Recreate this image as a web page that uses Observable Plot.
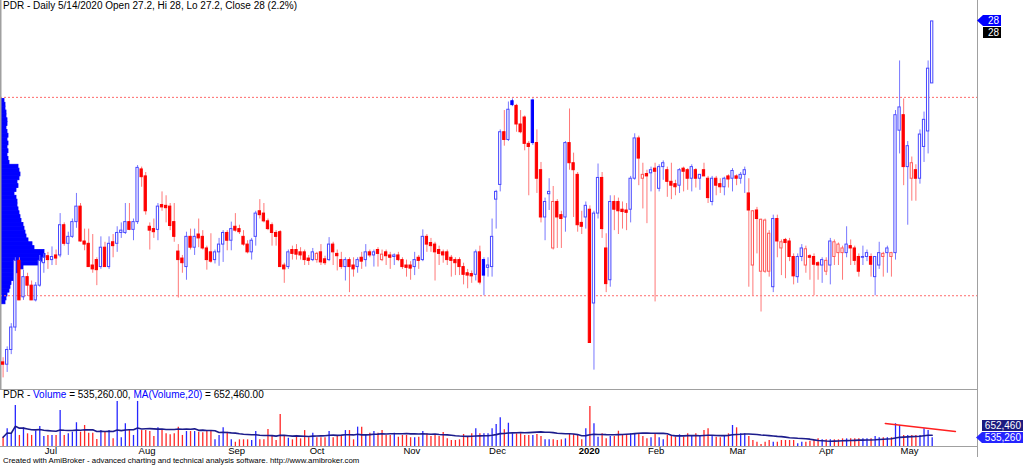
<!DOCTYPE html>
<html><head><meta charset="utf-8">
<script src="https://cdn.jsdelivr.net/npm/d3@7"></script>
<script src="https://cdn.jsdelivr.net/npm/@observablehq/plot@0.6"></script>
<style>
html,body{margin:0;padding:0;background:#fff;}
#wrap{position:relative;width:1024px;height:467px;overflow:hidden;font-family:"Liberation Sans",Arial,sans-serif;background:#fff;}
.abs{position:absolute;}
.lbl{position:absolute;color:#fff;font-size:10px;line-height:11px;height:11px;text-align:right;padding-right:2px;box-sizing:border-box;}
</style></head><body>
<div id="wrap">
  <div id="profile" class="abs" style="left:0;top:0"></div>
  <div id="price" class="abs" style="left:0;top:0"></div>
  <div id="vol" class="abs" style="left:0;top:389px"></div>
  <div id="title" class="abs" style="left:3px;top:0;font-size:10px;line-height:12px;white-space:nowrap;"></div>
  <div id="vtitle" class="abs" style="left:3px;top:389px;font-size:10px;line-height:12px;white-space:nowrap;"></div>
  <div id="footer" class="abs" style="left:3px;top:456px;font-size:7.8px;line-height:10px;white-space:nowrap;"></div>
  <div class="abs" style="left:977px;top:0;width:1px;height:457px;background:#a0a0a0;"></div>
  <div id="pl1" class="lbl" style="left:977px;top:15px;width:24px;background:#0000ff;clip-path:polygon(0 50%,6px 0,100% 0,100% 100%,6px 100%);"></div>
  <div id="pl2" class="lbl" style="left:983px;top:27px;width:18px;background:#000;"></div>
  <div id="vl1" class="lbl" style="left:982px;top:420px;width:41px;background:#1c1c80;"></div>
  <div id="vl2" class="lbl" style="left:976px;top:432px;width:47px;background:#2424ff;clip-path:polygon(0 50%,6px 0,100% 0,100% 100%,6px 100%);"></div>
</div>
<script>
// ---- data (daily bars, PDR, ~Jun 17 2019 .. May 14 2020) ----
const open = [23.60,23.57,23.76,24.05,24.91,24.44,24.70,24.59,24.40,24.59,24.88,24.97,24.92,24.98,24.98,25.37,25.13,25.22,25.41,25.61,
25.16,25.13,24.85,24.92,24.83,25.08,24.83,25.15,25.13,25.27,25.27,25.41,25.31,25.41,26.09,26.00,25.35,25.32,25.31,25.63,
25.62,25.61,25.41,25.03,24.94,24.83,25.22,25.08,25.25,25.22,25.07,25.02,24.92,25.02,25.12,25.27,25.17,25.35,25.32,25.22,
25.12,25.02,25.22,25.55,25.52,25.42,25.37,25.27,25.28,24.85,24.83,25.05,25.05,25.02,25.02,24.94,24.92,24.92,25.02,24.93,
24.92,25.12,25.00,24.92,24.83,24.92,24.85,24.83,24.95,24.92,25.02,24.98,25.05,24.92,25.02,24.98,24.96,24.98,24.92,24.85,
24.85,24.83,24.95,24.92,25.22,25.14,25.12,25.05,25.02,25.02,24.95,24.92,24.92,24.83,24.75,24.74,24.73,25.02,24.92,24.82,
24.83,25.70,25.89,26.57,26.47,26.97,26.91,26.67,26.76,26.42,26.98,26.43,26.08,25.47,25.77,25.07,25.67,25.50,25.47,26.43,
26.17,26.02,25.40,25.47,25.57,24.36,25.52,25.98,25.07,24.66,25.67,25.67,25.57,25.56,25.57,25.97,26.49,25.97,26.03,26.04,
26.10,25.84,26.12,26.08,25.93,25.90,25.88,26.10,26.08,25.97,26.08,25.97,26.08,25.97,25.67,25.97,25.90,25.86,26.00,25.97,
26.00,25.97,26.02,25.78,24.85,25.56,24.77,24.77,24.77,24.57,25.45,25.07,25.18,25.16,24.96,24.70,24.96,24.85,24.97,24.96,
24.88,24.85,24.77,24.85,24.96,25.01,25.01,25.01,25.10,25.07,24.96,24.95,24.96,24.96,24.70,24.85,24.96,25.01,24.96,25.01,
26.59,26.79,26.12,25.97,26.08,25.97,26.38,26.58,27.20];
const high = [23.66,23.80,24.10,24.95,24.95,24.79,24.75,24.65,24.63,24.98,25.00,25.02,25.09,25.05,25.52,25.40,25.28,25.45,25.78,25.65,
25.32,25.32,25.25,24.95,25.22,25.15,25.22,25.25,25.35,25.40,25.65,25.65,25.45,26.14,26.12,26.05,25.40,25.45,25.65,25.80,
25.75,25.65,25.65,25.12,24.98,25.28,25.32,25.32,25.45,25.30,25.10,25.26,25.05,25.20,25.30,25.30,25.41,25.52,25.37,25.30,
25.17,25.20,25.55,25.70,25.65,25.45,25.40,25.30,25.30,24.88,25.05,25.10,25.12,25.08,25.05,24.98,25.07,25.02,25.12,24.97,
25.21,25.15,25.05,25.02,24.95,24.95,24.95,24.95,25.02,25.12,25.05,25.05,25.08,25.05,25.05,25.02,25.00,25.02,24.95,24.92,
24.90,25.02,24.98,25.31,25.25,25.20,25.15,25.10,25.05,25.05,24.98,24.95,24.95,24.88,24.80,24.78,25.05,25.10,24.95,24.95,
25.45,25.82,26.60,26.85,26.96,27.00,26.93,26.85,26.78,26.45,27.00,26.60,26.18,25.72,25.97,25.87,25.70,25.55,26.45,26.87,
26.30,26.05,25.55,25.67,25.62,25.55,26.16,26.05,25.26,25.75,25.75,25.72,25.67,25.65,26.00,26.55,26.52,26.17,26.08,26.12,
26.17,26.15,26.20,26.12,26.17,25.95,26.10,26.12,26.10,26.15,26.10,26.02,26.17,26.00,26.00,26.00,25.97,25.99,26.02,26.10,
26.02,26.05,26.12,25.97,25.56,25.60,25.45,25.45,25.30,25.50,25.50,25.18,25.20,25.20,25.00,25.00,25.12,25.10,24.99,25.00,
24.90,24.95,24.95,25.20,25.18,25.14,25.10,25.35,25.18,25.10,25.00,25.10,25.05,25.00,24.96,25.15,25.02,25.10,25.02,26.85,
27.49,27.00,26.45,26.25,26.15,26.60,26.83,27.49,28.00];
const low = [23.40,23.47,23.70,24.00,24.40,24.40,24.45,24.40,24.38,24.57,24.75,24.80,24.85,24.85,24.95,25.10,24.98,25.20,25.33,25.15,
25.04,24.83,24.75,24.59,24.80,24.83,24.80,24.95,25.02,25.20,25.25,25.30,25.17,25.38,25.86,25.50,25.05,25.20,25.17,25.55,
25.40,25.30,25.15,24.43,24.75,24.66,25.05,24.98,25.08,25.05,24.79,24.88,24.87,24.84,24.89,25.04,25.04,25.28,25.25,25.10,
25.00,24.92,25.10,25.45,25.40,25.30,25.10,25.10,24.83,24.62,24.80,24.92,24.92,24.92,24.85,24.85,24.90,24.88,24.85,24.85,
24.90,24.85,24.78,24.80,24.65,24.50,24.70,24.75,24.80,24.83,24.95,24.83,24.83,24.90,24.85,24.80,24.85,24.90,24.80,24.70,
24.66,24.72,24.80,24.90,25.02,25.02,24.65,24.85,24.88,24.85,24.70,24.72,24.72,24.60,24.55,24.62,24.65,24.60,24.46,24.70,
24.70,25.32,25.80,26.39,26.45,26.90,26.57,26.55,26.33,25.75,26.40,25.78,25.40,25.17,25.56,25.05,25.07,25.07,25.28,26.08,
25.47,25.28,25.25,25.32,23.85,23.50,25.45,25.20,24.50,24.57,25.30,25.25,25.32,25.30,25.40,25.95,25.88,25.58,25.39,25.80,
24.38,25.80,25.95,25.73,25.70,25.75,25.78,25.80,25.82,25.80,25.85,25.82,26.00,25.65,25.62,25.75,25.78,25.75,25.85,25.80,
25.88,25.90,25.78,24.57,24.46,25.00,24.25,24.75,24.70,24.50,24.95,24.72,24.68,24.90,24.60,24.62,24.90,24.75,24.66,24.46,
24.66,24.62,24.72,24.60,24.85,24.85,24.66,24.95,24.85,24.85,24.70,24.85,24.90,24.70,24.46,24.80,24.70,24.75,24.70,24.92,
26.29,25.88,25.37,25.68,25.68,25.90,26.18,26.29,27.20];
const close = [23.57,23.76,24.05,24.91,24.40,24.70,24.59,24.40,24.59,24.91,24.95,24.92,24.96,24.94,25.37,25.13,25.22,25.41,25.61,25.16,
25.12,24.83,24.80,24.79,25.08,24.83,25.13,25.10,25.27,25.30,25.41,25.31,25.41,26.11,25.99,25.55,25.30,25.28,25.61,25.60,
25.59,25.36,25.22,24.92,24.88,25.22,25.08,25.22,25.20,25.07,24.92,24.90,25.02,25.12,25.27,25.17,25.32,25.30,25.28,25.12,
25.02,25.17,25.52,25.50,25.42,25.32,25.27,25.22,24.83,24.80,25.02,25.00,24.99,24.98,24.92,24.91,25.02,25.00,24.89,24.88,
25.12,25.02,24.97,24.83,24.92,24.83,24.80,24.92,24.90,25.02,24.98,25.02,25.00,24.99,24.97,24.95,24.98,24.92,24.83,24.82,
24.81,24.92,24.91,25.22,25.12,25.10,25.02,25.00,24.98,24.92,24.91,24.88,24.83,24.73,24.72,24.71,25.02,24.63,24.72,24.85,
25.22,25.80,26.57,26.47,26.86,26.92,26.67,26.57,26.42,26.38,26.43,25.97,25.47,25.67,25.80,25.67,25.47,25.45,26.43,26.17,
26.08,25.37,25.35,25.62,23.85,25.52,25.98,25.32,24.61,25.67,25.57,25.55,25.54,25.53,25.97,26.49,26.23,26.02,26.00,26.08,
26.06,26.12,26.17,25.93,25.88,25.86,26.08,26.06,25.97,26.12,25.97,26.02,26.00,25.72,25.97,25.88,25.86,25.97,25.96,26.07,
25.97,26.02,26.08,25.56,25.55,25.45,25.44,25.43,25.26,25.45,25.16,25.15,25.14,24.96,24.71,24.96,25.07,25.06,24.95,24.86,
24.85,24.92,24.91,25.16,25.15,25.12,25.07,25.12,25.07,24.91,24.77,24.96,25.01,24.86,24.96,25.01,25.00,25.07,25.01,26.79,
26.89,26.12,26.39,26.17,25.97,26.54,26.73,27.39,28.00];
// volume, thousands of shares
const volume = [570,1090,780,2520,680,1150,780,680,940,1230,620,680,680,680,2210,680,780,880,1460,880,
1290,820,820,430,980,880,980,470,2770,540,1400,1030,680,2770,980,980,920,620,1150,980,
780,720,780,1190,680,920,920,920,880,840,940,940,410,680,1150,880,410,260,410,410,
410,370,920,410,410,1050,630,370,1970,680,510,410,680,470,980,540,820,540,540,540,
920,540,680,680,980,980,410,1190,1190,680,820,920,820,980,680,680,820,570,680,680,
540,540,570,920,780,620,680,620,860,470,370,370,410,740,570,780,1090,780,780,780,
1090,1350,1770,1030,1430,780,780,780,680,680,680,740,620,410,410,410,370,410,470,780,
740,680,410,1090,2460,1400,570,780,470,620,620,940,720,740,780,780,780,620,470,540,
780,540,410,680,680,570,720,570,780,680,780,680,980,1090,680,570,540,620,780,1290,
1150,780,780,620,370,260,120,260,370,260,260,370,370,370,370,170,260,260,330,410,
470,410,410,410,410,410,470,470,470,470,470,470,470,470,620,540,540,540,540,1400,
1290,680,680,680,680,680,1090,980,535.26];
const maLast = 652460;               // MA(Volume,20) on the last bar
const priceLevels = [27.02, 24.46];  // dotted red lines
// volume-at-price profile (relative volume), bins of 0.05 from 27.00 down to 24.35
const profileTop = 27.00, profileStep = 0.05;
const profileVol = [3,4,4,5,5,6,6,5,6,7,6,7,6,7,6,7,8,17,18,19,18,16,17,15,13,15,16,16,17,18,19,20,22,23,24,25,27,31,33,43,44,41,39,22,17,14,13,10,9,8,6,5,4];
const monthIdx = [10,33,55,75,98,119,141,158,178,200,220];
const monthLabels = ["Jul","Aug","Sep","Oct","Nov","Dec","2020","Feb","Mar","Apr","May"];
const volTrend = [{i:216.5, v:1415},{i:233.7, v:925}]; // user-drawn trend line on volume
const titleInfo = {ticker:"PDR", date:"5/14/2020"};

// ---- build ----
const BLUE = "#0000ff", RED = "#ff0000";
const LIGHT = {[BLUE]:"#7878ff", [RED]:"#ff7878"};
const OUTLINE = {[BLUE]:"#4848ff", [RED]:"#ff5858"};
const bars = close.map((c,i)=>{
  const ref = i ? close[i-1] : open[i];
  const col = c >= ref ? BLUE : RED;
  const hollow = c >= open[i];
  return {i, o:open[i], h:high[i], l:low[i], c, v:volume[i], col, wick:LIGHT[col],
          edge: hollow ? OUTLINE[col] : col, fill: hollow ? "#ffffff" : col};
});
const X_DOMAIN = [-0.638, 239.12];
const Y_DOMAIN = [23.25, 28.27];
const VMAX = 3505;
const font = {background:"transparent", overflow:"visible", fontFamily:"'Liberation Sans', Arial, sans-serif"};

const profBins = profileVol.map((w,k)=>({p: +(profileTop - (k+1)*profileStep).toFixed(2), w}));
document.getElementById("profile").append(Plot.plot({
  width:60, height:389, marginLeft:1, marginRight:0, marginTop:0, marginBottom:0, style:font,
  x:{domain:[0,59], axis:null}, y:{domain:Y_DOMAIN, axis:null},
  marks:[Plot.rectX(profBins, {x1:0, x2:"w", y1:"p", y2:d=>d.p+profileStep, fill:BLUE, stroke:BLUE, strokeWidth:0.8})]
}));

document.getElementById("price").append(Plot.plot({
  width:1024, height:389, marginLeft:0, marginRight:47, marginTop:0, marginBottom:0, style:font,
  x:{domain:X_DOMAIN, axis:null}, y:{domain:Y_DOMAIN, axis:null},
  marks:[
    Plot.ruleY(priceLevels, {stroke:"#ff6a6a", strokeDasharray:"2,2"}),
    Plot.ruleX([X_DOMAIN[0]], {stroke:"#a0a0a0", strokeWidth:2}),
    Plot.ruleX(bars, {x:"i", y1:"l", y2:"h", stroke:"wick"}),
    Plot.rect(bars, {x1:d=>d.i-0.5, x2:d=>d.i+0.5, insetLeft:0.9, insetRight:0.9, y1:"o", y2:"c",
      fill:"fill", stroke:"edge"})
  ]
}));

const monthData = monthIdx.map((i,k)=>({i, label:monthLabels[k]}));
document.getElementById("vol").append(Plot.plot({
  width:1024, height:78, marginLeft:0, marginRight:47, marginTop:0, marginBottom:21, style:font,
  x:{domain:X_DOMAIN, axis:null}, y:{domain:[0,VMAX], axis:null},
  marks:[
    Plot.ruleY([VMAX], {stroke:"#a0a0a0"}),
    Plot.ruleY([0], {stroke:"#a0a0a0"}),
    Plot.ruleX(bars, {x:"i", y1:0, y2:"v", stroke:"col", strokeWidth:1.3, strokeOpacity:0.85}),
    Plot.lineY(bars, Plot.windowY({k:20, anchor:"end"}, {x:"i", y:"v", stroke:"#1c1c8c", strokeWidth:1.6})),
    Plot.line(volTrend, {x:"i", y:"v", stroke:"#ff2020", strokeWidth:1.5}),
    Plot.text(monthData.filter(d=>d.label!=="2020"), {x:"i", y:0, text:"label", lineAnchor:"top", textAnchor:"start", dx:1, dy:1, fontSize:9.5, fill:"#000"}),
    Plot.text(monthData.filter(d=>d.label==="2020"), {x:"i", y:0, text:"label", lineAnchor:"top", textAnchor:"start", dx:1, dy:1, fontSize:9.5, fontWeight:"bold", fill:"#000"})
  ]
}));

// ---- texts ----
const n = close.length;
const last = {o:open[n-1], h:high[n-1], l:low[n-1], c:close[n-1]};
const pct = ((last.c/close[n-2]-1)*100).toFixed(1);
document.getElementById("title").textContent =
  `${titleInfo.ticker} - Daily ${titleInfo.date} Open ${last.o}, Hi ${last.h}, Lo ${last.l}, Close ${last.c} (${pct}%)`;
const f2 = d3.format(",.2f"), f0 = d3.format(",.0f");
const lastVol = volume[n-1]*1000;
document.getElementById("vtitle").innerHTML =
  `${titleInfo.ticker} - <span style="color:#0000ff">Volume</span> = ${f2(lastVol)}, <span style="color:#0000ff">MA(Volume,20)</span> = ${f2(maLast)}`;
document.getElementById("footer").textContent =
  "Created with AmiBroker - advanced charting and technical analysis software. http://www.amibroker.com";
document.getElementById("pl1").textContent = String(last.c);
document.getElementById("pl2").textContent = String(last.c);
document.getElementById("vl1").textContent = f0(maLast);
document.getElementById("vl2").textContent = f0(lastVol);
</script>
</body></html>
